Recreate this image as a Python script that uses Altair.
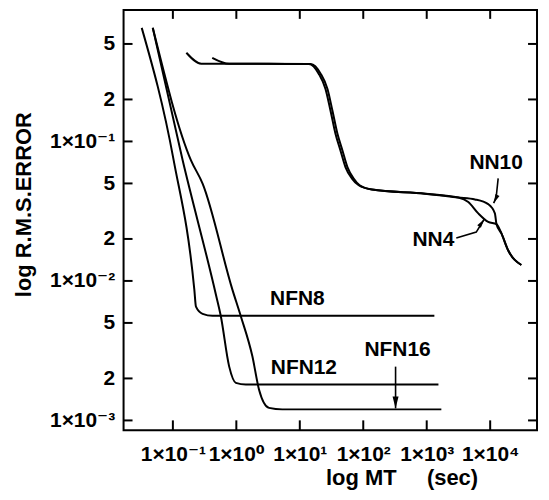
import altair as alt
import pandas as pd

# ---------------- data ----------------
NN4_x = [0.163, 0.28, 13.9, 19.95, 25.4, 30.5, 36.5, 43.7, 52.4, 66.5, 84.7, 137, 944, 3148, 4520, 6490, 9310, 12570, 15040, 19170, 30970]
NN4_y = [0.432, 0.361, 0.359, 0.305, 0.238, 0.166, 0.1135, 0.0862, 0.0655, 0.0542, 0.0485, 0.0452, 0.0422, 0.0396, 0.0368, 0.0305, 0.0265, 0.0255, 0.0219, 0.0166, 0.013]

NN10_x = [0.417, 0.77, 14.9, 21.4, 27.3, 32.7, 39.2, 47.0, 56.3, 70.6, 87.7, 137, 944, 3148, 5750, 9310, 11860, 12570, 15040, 19170, 30970]
NN10_y = [0.398, 0.361, 0.359, 0.305, 0.238, 0.166, 0.1135, 0.0862, 0.0655, 0.0542, 0.0485, 0.0452, 0.0422, 0.0396, 0.0384, 0.0355, 0.0305, 0.0255, 0.0219, 0.0166, 0.013]

NFN8_x = [0.0323, 0.103, 0.218, 0.231, 0.294, 0.422, 1320]
NFN8_y = [0.652, 0.0732, 0.00863, 0.00655, 0.00581, 0.00562, 0.00562]

NFN12_x = [0.0482, 0.1426, 0.476, 0.571, 0.77, 0.982, 1.41, 1530]
NFN12_y = [0.652, 0.0732, 0.0080, 0.00556, 0.00244, 0.00186, 0.00181, 0.00181]

NFN16_x = [0.0482, 0.193, 0.294, 0.869, 1.18, 1.79, 2.28, 3.27, 5.30, 1700]
NFN16_y = [0.652, 0.0732, 0.0499, 0.00863, 0.00556, 0.00288, 0.00166, 0.00123, 0.0012, 0.0012]

SERIES = {"NN4": (NN4_x, NN4_y), "NN10": (NN10_x, NN10_y),
          "NFN8": (NFN8_x, NFN8_y), "NFN12": (NFN12_x, NFN12_y), "NFN16": (NFN16_x, NFN16_y)}

X_TICKS = [0.1, 1, 10, 100, 1000, 10000]
X_TICK_LABELS = ["1×10⁻¹", "1×10⁰", "1×10¹", "1×10²", "1×10³", "1×10⁴"]
Y_TICKS = [0.5, 0.2, 0.1, 0.05, 0.02, 0.01, 0.005, 0.002, 0.001]
Y_TICK_LABELS = ["5", "2", "1×10⁻¹", "5", "2", "1×10⁻²", "5", "2", "1×10⁻³"]

LABELS = ["NN10", "NN4", "NFN8", "NFN12", "NFN16"]
LABEL_X = [12400, 1273, 9.16, 11.6, 347]
LABEL_Y = [0.0697, 0.0196, 0.00738, 0.00237, 0.00319]

ARROW_ID = ["a10", "a10", "a10", "a4", "a4", "a4", "a16", "a16"]
ARROW_X = [13360, 12420, 11350, 2924, 6030, 8050, 323, 323]
ARROW_Y = [0.0544, 0.0398, 0.0361, 0.0203, 0.0224, 0.0277, 0.00243, 0.00122]
HEAD_X = [11350, 8050, 323]
HEAD_Y = [0.0361, 0.0277, 0.00122]
HEAD_ANGLE = [25, 215, 0]
HEAD_SIZE = [324, 324, 576]

# ---------------- build tables ----------------
rows = []
for name, (xs, ys) in SERIES.items():
    for i, (xv, yv) in enumerate(zip(xs, ys)):
        rows.append({"series": name, "i": i, "x": xv, "y": yv})
df = pd.DataFrame(rows)

df_lab = pd.DataFrame({"x": LABEL_X, "y": LABEL_Y, "t": LABELS})
df_arr = pd.DataFrame({"a": ARROW_ID, "i": list(range(len(ARROW_ID))), "x": ARROW_X, "y": ARROW_Y})
df_head = pd.DataFrame({"x": HEAD_X, "y": HEAD_Y, "ang": HEAD_ANGLE, "s": HEAD_SIZE})
df_yt = pd.DataFrame({"y": Y_TICKS})
df_xt = pd.DataFrame({"x": X_TICKS})


def label_expr(vals, labs):
    expr = "''"
    for v, l in zip(vals, labs):
        expr = f"abs(datum.value - {v}) < {v * 1e-6} ? '{l}' : ({expr})"
    return expr


FONT = "Liberation Sans, Arial, Helvetica, DejaVu Sans, sans-serif"
W, H = 415, 422

xscale = alt.Scale(type="log", domain=[10 ** -1.777, 10 ** 4.738], nice=False)
yscale = alt.Scale(type="log", domain=[10 ** -3.071, 10 ** -0.057], nice=False)

x_axis = alt.Axis(values=X_TICKS, labelExpr=label_expr(X_TICKS, X_TICK_LABELS),
                  labelFont=FONT, labelFontSize=21, labelFontWeight="bold", labelColor="black",
                  labelPadding=13, labelFlush=False, labelOverlap=False,
                  title="log MT" + "\u00a0" * 5 + "(sec)", titleFont=FONT, titleFontSize=22,
                  titleFontWeight="bold", titleColor="black", titleX=279, titleY=54,
                  titleAlign="center", titleBaseline="alphabetic",
                  grid=False, domain=False, ticks=False, tickSize=0)
y_axis = alt.Axis(values=Y_TICKS, labelExpr=label_expr(Y_TICKS, Y_TICK_LABELS),
                  labelFont=FONT, labelFontSize=21, labelFontWeight="bold", labelColor="black",
                  labelPadding=9, labelFlush=False, labelOverlap=False,
                  title="log R.M.S.ERROR", titleFont=FONT, titleFontSize=22,
                  titleFontWeight="bold", titleColor="black", titleAngle=-90,
                  titleX=-100, titleY=195, titleAlign="center", titleBaseline="middle",
                  grid=False, domain=False, ticks=False, tickSize=0)

X_ENC = alt.X("x:Q", scale=xscale, axis=x_axis)
Y_ENC = alt.Y("y:Q", scale=yscale, axis=y_axis)
X_PLAIN = alt.X("x:Q", scale=xscale)
Y_PLAIN = alt.Y("y:Q", scale=yscale)

lines = alt.Chart(df).mark_line(color="black", strokeWidth=2, interpolate="monotone").encode(
    x=X_ENC, y=Y_ENC, detail="series:N", order="i:Q",
)

tick_style = dict(color="black", strokeWidth=2)
left_ticks = alt.Chart(df_yt).mark_rule(**tick_style).encode(
    y=Y_PLAIN, x=alt.value(0), x2=alt.value(9))
right_ticks = alt.Chart(df_yt).mark_rule(**tick_style).encode(
    y=Y_PLAIN, x=alt.value(W - 9), x2=alt.value(W))
bottom_ticks = alt.Chart(df_xt).mark_rule(**tick_style).encode(
    x=X_PLAIN, y=alt.value(H - 10), y2=alt.value(H))
top_ticks = alt.Chart(df_xt).mark_rule(**tick_style).encode(
    x=X_PLAIN, y=alt.value(0), y2=alt.value(9))

texts = alt.Chart(df_lab).mark_text(font=FONT, fontSize=21, fontWeight="bold", color="black",
                                    align="center", baseline="middle").encode(
    x=X_PLAIN, y=Y_PLAIN, text="t:N",
)

arrows = alt.Chart(df_arr).mark_line(color="black", strokeWidth=1.6).encode(
    x=X_PLAIN, y=Y_PLAIN, detail="a:N", order="i:Q",
)

heads = alt.Chart(df_head).mark_point(shape="M0,0L-0.25,-1L0.25,-1Z", filled=True,
                                      color="black", opacity=1).encode(
    x=X_PLAIN, y=Y_PLAIN,
    angle=alt.Angle("ang:Q", scale=None),
    size=alt.Size("s:Q", scale=None, legend=None),
)

chart = alt.layer(lines, left_ticks, right_ticks, bottom_ticks, top_ticks, texts, arrows, heads).properties(
    width=W, height=H,
    autosize=alt.AutoSizeParams(type="none"),
    padding={"left": 116, "top": 1, "right": 4, "bottom": 62},
).configure_view(stroke="black", strokeWidth=2)

chart.save("out.html", embed_options={"renderer": "svg", "actions": False})
